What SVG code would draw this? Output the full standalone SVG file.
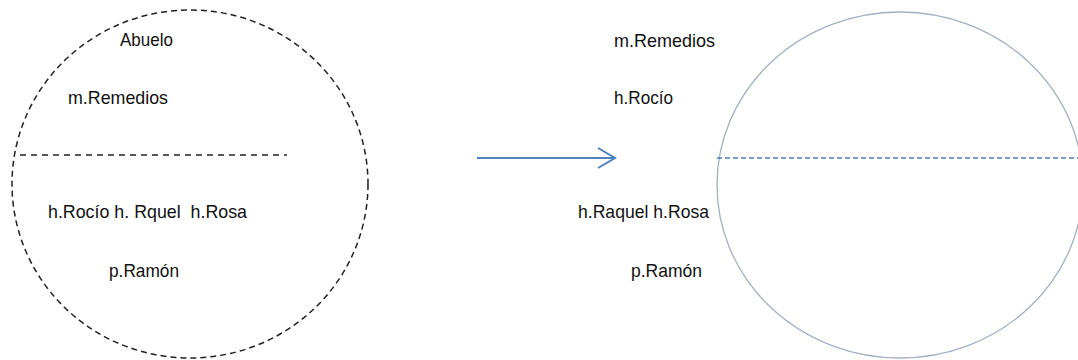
<svg xmlns="http://www.w3.org/2000/svg" width="1078" height="360" viewBox="0 0 1078 360">
<style>
.t{font-family:"Liberation Sans",Arial,sans-serif;font-size:19px;fill:#111}
.dash{fill:none;stroke:#222;stroke-width:1.5;stroke-dasharray:6 4}
.blue{fill:none;stroke:#4a7ebb;stroke-width:1.5;stroke-dasharray:5 3}
</style>
<rect width="1078" height="360" fill="#fff"/>
<g id="left-group">
<ellipse class="dash" cx="190" cy="184" rx="178" ry="174"/>
<line class="dash" x1="20" y1="155" x2="287" y2="155" style="stroke-dasharray:6 5"/>
<text class="t" x="120" y="46" textLength="53" lengthAdjust="spacingAndGlyphs">Abuelo</text>
<text class="t" x="68" y="104" textLength="100" lengthAdjust="spacingAndGlyphs">m.Remedios</text>
<text class="t" x="48" y="218" textLength="199" lengthAdjust="spacingAndGlyphs" xml:space="preserve">h.Rocío h. Rquel  h.Rosa</text>
<text class="t" x="109" y="277" textLength="70" lengthAdjust="spacingAndGlyphs">p.Ramón</text>
</g>
<g id="connectors">
<line x1="477" y1="158" x2="614" y2="158" stroke="#4f81bd" stroke-width="2"/>
<polyline points="598,148 615,158 598,168" fill="none" stroke="#4f81bd" stroke-width="2"/>
</g>
<g id="right-group">
<ellipse cx="900" cy="185" rx="183" ry="173" fill="none" stroke="#a3b0c2" stroke-width="1.3"/>
<line class="blue" x1="717" y1="158" x2="1078" y2="158"/>
<text class="t" x="614" y="47" textLength="101" lengthAdjust="spacingAndGlyphs">m.Remedios</text>
<text class="t" x="614" y="104" textLength="59" lengthAdjust="spacingAndGlyphs">h.Rocío</text>
<text class="t" x="578" y="218" textLength="131" lengthAdjust="spacingAndGlyphs">h.Raquel h.Rosa</text>
<text class="t" x="631" y="277" textLength="71" lengthAdjust="spacingAndGlyphs">p.Ramón</text>
</g>
</svg>
